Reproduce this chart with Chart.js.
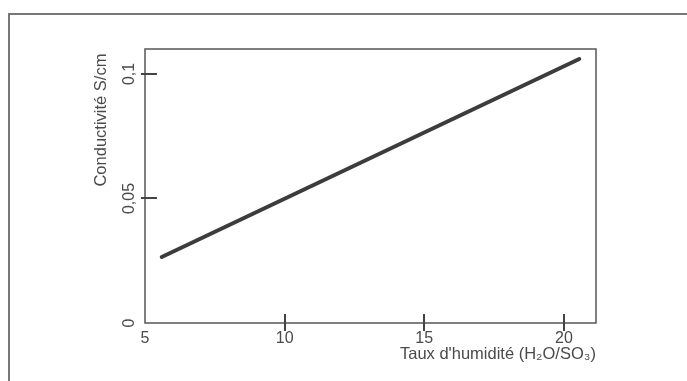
<!DOCTYPE html>
<html>
<head>
<meta charset="utf-8">
<script src="https://cdn.jsdelivr.net/npm/chart.js@4/dist/chart.umd.min.js"></script>
<style>
  html, body { margin: 0; padding: 0; background: #ffffff; }
  #wrap { width: 687px; height: 381px; position: relative; }
</style>
</head>
<body>
<div id="wrap"><canvas id="c" width="687" height="381"></canvas></div>
<script>
// Data
const humidity = [5.6, 20.55];          // Taux d'humidité (H2O/SO3)
const conductivity = [0.0265, 0.106];   // Conductivité S/cm
const xTicks = [5, 10, 15, 20];
const yTicks = [0, 0.05, 0.1];
const xTitle = "Taux d'humidité (H\u2082O/SO\u2083)";
const yTitle = "Conductivité S/cm ";

const FONT = '"Liberation Sans", Arial, sans-serif';
const INK = '#4a4a4a';

const points = humidity.map((x, i) => ({ x: x, y: conductivity[i] }));

const framePlugin = {
  id: 'frame',
  beforeDraw(chart) {
    const ctx = chart.ctx;
    ctx.save();
    ctx.fillStyle = '#ffffff';
    ctx.fillRect(0, 0, chart.width, chart.height);
    ctx.strokeStyle = '#777777';
    ctx.lineWidth = 2;
    ctx.beginPath();
    ctx.moveTo(9, chart.height);
    ctx.lineTo(9, 14);
    ctx.lineTo(chart.width, 14);
    ctx.stroke();
    ctx.restore();
  },
  afterDraw(chart) {
    const ctx = chart.ctx;
    const a = chart.chartArea;
    const xs = chart.scales.x, ys = chart.scales.y;
    ctx.save();
    ctx.strokeStyle = '#555555';
    ctx.lineWidth = 1.5;
    ctx.strokeRect(a.left, a.top, a.right - a.left, a.bottom - a.top);
    ctx.lineWidth = 2;
    ctx.strokeStyle = '#444444';
    ctx.beginPath();
    xTicks.forEach(v => {
      if (v === xs.min) return;
      const px = Math.round(xs.getPixelForValue(v));
      ctx.moveTo(px, a.bottom - 9);
      ctx.lineTo(px, a.bottom + 8);
    });
    yTicks.forEach(v => {
      if (v === ys.min) return;
      const py = Math.round(ys.getPixelForValue(v));
      ctx.moveTo(a.left - 4, py);
      ctx.lineTo(a.left + 12, py);
    });
    ctx.stroke();
    ctx.restore();
  }
};

new Chart(document.getElementById('c'), {
  type: 'line',
  data: {
    datasets: [{
      data: points,
      borderColor: '#3c3c3c',
      borderWidth: 4,
      borderCapStyle: 'round',
      pointRadius: 0,
      fill: false,
      tension: 0
    }]
  },
  options: {
    responsive: false,
    animation: false,
    events: [],
    layout: { padding: { left: 90, top: 49, right: 91, bottom: 13 } },
    plugins: { legend: { display: false }, tooltip: { enabled: false } },
    scales: {
      x: {
        type: 'linear',
        min: 5,
        max: 21.15,
        border: { display: false },
        grid: { display: false, drawTicks: false },
        afterBuildTicks(scale) { scale.ticks = xTicks.map(v => ({ value: v })); },
        afterFit(scale) { scale.height = 45; },
        ticks: {
          padding: 6,
          color: INK,
          font: { family: FONT, size: 16 },
          maxRotation: 0,
          callback: v => String(v)
        },
        title: {
          display: true,
          text: xTitle,
          align: 'end',
          color: INK,
          font: { family: FONT, size: 16.5 },
          padding: { top: 0, bottom: 4 }
        }
      },
      y: {
        type: 'linear',
        min: 0,
        max: 0.11,
        border: { display: false },
        grid: { display: false, drawTicks: false },
        afterBuildTicks(scale) { scale.ticks = yTicks.map(v => ({ value: v })); },
        afterFit(scale) { scale.width = 55; },
        ticks: {
          padding: 0,
          minRotation: 90,
          maxRotation: 90,
          crossAlign: 'center',
          color: INK,
          font: { family: FONT, size: 16 },
          callback: v => String(v).replace('.', ',')
        },
        title: {
          display: true,
          text: yTitle,
          align: 'end',
          color: INK,
          font: { family: FONT, size: 16.5 },
          padding: { top: 2, bottom: 0 }
        }
      }
    }
  },
  plugins: [framePlugin]
});
</script>
</body>
</html>
